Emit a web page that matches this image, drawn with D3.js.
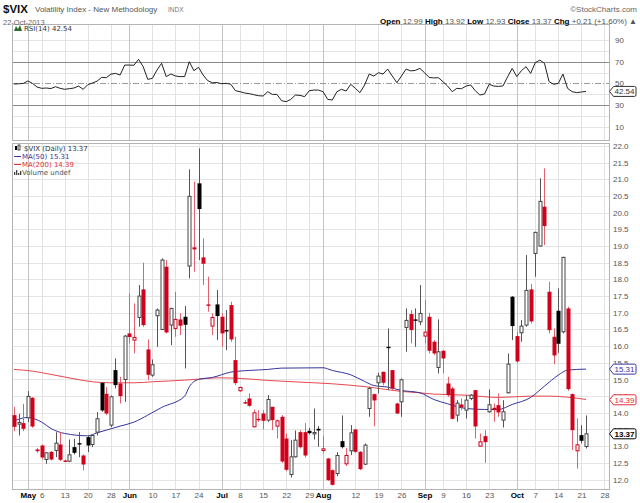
<!DOCTYPE html>
<html><head><meta charset="utf-8">
<script src="https://cdn.jsdelivr.net/npm/d3@7"></script>
<style>body{margin:0;background:#fff}svg{display:block}</style>
</head><body>
<svg id="c" width="640" height="503"></svg>
<script>
// ---------------- DATA ----------------
const dates = ["04-26","04-29","04-30",
"05-01","05-02","05-03","05-06","05-07","05-08","05-09","05-10","05-13","05-14","05-15","05-16","05-17","05-20","05-21","05-22","05-23","05-24","05-28","05-29","05-30","05-31",
"06-03","06-04","06-05","06-06","06-07","06-10","06-11","06-12","06-13","06-14","06-17","06-18","06-19","06-20","06-21","06-24","06-25","06-26","06-27","06-28",
"07-01","07-02","07-03","07-05","07-08","07-09","07-10","07-11","07-12","07-15","07-16","07-17","07-18","07-19","07-22","07-23","07-24","07-25","07-26","07-29","07-30","07-31",
"08-01","08-02","08-05","08-06","08-07","08-08","08-09","08-12","08-13","08-14","08-15","08-16","08-19","08-20","08-21","08-22","08-23","08-26","08-27","08-28","08-29","08-30",
"09-03","09-04","09-05","09-06","09-09","09-10","09-11","09-12","09-13","09-16","09-17","09-18","09-19","09-20","09-23","09-24","09-25","09-26","09-27","09-30",
"10-01","10-02","10-03","10-04","10-07","10-08","10-09","10-10","10-11","10-14","10-15","10-16","10-17","10-18","10-21","10-22"];
const futureDates = ["10-23","10-24","10-25","10-28","10-29"];

const open = [13.93,13.66,13.69,
13.85,14.45,12.90,13.02,12.60,12.83,12.87,13.05,12.57,12.55,12.97,13.09,12.72,13.27,13.05,13.42,14.90,14.57,13.63,15.28,14.88,15.00,
16.38,16.18,16.86,17.70,15.90,15.13,16.91,16.50,18.38,16.63,16.53,16.80,16.88,18.40,18.96,20.88,18.66,17.25,16.60,17.25,
16.88,16.48,17.23,15.58,14.66,14.32,14.43,13.58,13.82,13.98,13.78,14.18,13.60,13.88,13.23,12.15,12.68,13.42,13.42,13.46,13.37,13.52,
12.87,12.63,12.28,12.18,13.15,12.47,12.86,13.50,12.83,12.46,14.13,14.56,14.90,15.23,15.98,15.28,14.28,14.33,16.56,16.96,16.80,16.73,
16.30,16.88,16.13,15.36,15.86,14.88,14.73,13.93,14.25,14.08,14.43,14.68,13.00,13.30,14.03,14.15,14.23,13.78,14.60,17.48,
16.30,16.40,16.63,17.70,18.78,19.00,20.18,17.63,16.28,17.06,16.43,17.13,14.56,12.86,13.33,12.99];
const high = [14.18,13.97,14.27,
14.65,14.47,12.95,13.05,12.82,12.85,13.42,13.42,12.60,13.20,13.22,13.42,12.75,13.32,13.35,14.02,14.92,14.77,14.52,15.63,15.08,16.33,
17.58,17.28,17.83,18.50,16.20,15.60,17.13,18.63,18.58,17.15,17.63,16.98,17.20,21.30,20.93,21.93,19.23,18.08,16.98,17.68,
16.98,17.08,17.33,16.28,14.78,14.38,14.58,14.10,14.08,14.08,14.53,14.18,13.80,13.93,13.38,13.18,13.47,13.48,13.69,13.55,14.13,13.60,
13.30,12.65,12.30,12.82,13.92,12.95,13.63,13.52,12.85,13.08,14.78,14.58,15.20,15.23,16.53,15.28,14.30,15.03,17.13,17.08,17.13,17.83,
17.38,17.00,16.18,16.80,15.88,15.08,14.78,14.38,14.43,14.53,14.56,14.68,13.38,13.48,14.70,14.28,14.58,14.38,15.78,17.50,
16.43,16.78,18.73,17.86,19.43,21.03,21.33,17.93,16.53,17.73,18.68,17.18,14.58,13.83,13.63,13.92];
const low = [13.45,13.32,13.45,
13.72,13.55,12.80,12.60,12.47,12.57,12.67,12.55,12.52,12.52,12.75,12.67,12.27,12.82,12.97,13.32,14.03,13.93,13.57,14.73,14.28,14.33,
16.08,15.78,16.58,16.58,14.98,15.08,15.98,16.48,16.38,16.03,16.28,16.33,15.33,18.03,18.23,18.58,17.83,17.03,16.33,16.18,
15.98,15.88,16.13,14.83,14.63,14.26,14.18,13.56,13.73,13.50,13.73,13.48,13.23,12.50,12.25,12.06,12.66,12.93,12.66,13.35,13.20,12.98,
12.80,11.96,11.82,12.10,12.93,12.40,12.73,12.80,12.28,12.43,13.88,13.60,14.58,14.83,14.68,14.68,13.96,13.88,15.83,16.08,15.98,16.63,
16.08,15.78,15.73,15.18,15.18,14.48,13.80,13.73,14.08,13.83,14.38,13.23,12.98,12.50,14.00,13.73,13.88,13.56,14.58,16.18,
15.50,16.13,16.58,16.68,18.08,18.98,19.03,16.38,15.46,15.80,16.38,14.66,12.88,12.33,13.08,12.93];
const close = [13.58,13.71,13.52,
14.49,13.59,12.85,12.66,12.80,12.60,13.09,12.59,12.55,12.74,12.80,13.07,12.45,13.02,13.32,13.82,14.07,13.98,14.48,14.83,14.50,16.30,
16.27,16.26,17.50,16.63,15.14,15.44,17.08,18.58,16.41,17.13,16.80,16.61,16.64,20.49,18.90,20.11,18.47,17.21,16.86,16.90,
16.38,16.44,16.20,14.89,14.76,14.30,14.21,14.00,13.80,13.76,14.40,13.78,13.76,12.54,12.29,12.68,13.18,12.97,12.72,13.39,13.41,13.47,
12.92,11.98,11.84,12.72,12.97,12.72,13.40,12.83,12.31,13.03,14.73,14.37,15.10,14.90,15.96,14.73,13.98,14.99,16.77,16.48,16.78,16.98,
16.42,15.86,15.78,15.83,15.63,14.53,13.82,14.29,14.16,14.38,14.53,13.59,13.13,13.12,14.24,14.08,14.01,14.03,15.46,16.60,
15.54,16.60,17.67,16.74,19.41,20.34,19.60,16.48,15.72,16.07,18.66,14.71,13.48,13.04,13.16,13.37];

const ma50Dates  = ["04-26","05-01","05-06","05-08","05-13","05-20","05-22","05-28","05-30","06-04","06-07","06-12","06-19","06-20","06-24","06-27","07-03","07-10","07-16","07-19","08-01","08-05","08-09","08-14","08-16","08-21","08-26","08-30","09-05","09-10","09-16","09-20","09-25","09-30","10-04","10-09","10-14","10-16","10-22"];
const ma50Values = [13.76,13.86,13.72,13.53,13.38,13.31,13.40,13.52,13.60,13.72,13.93,14.16,14.50,14.78,15.00,15.06,15.22,15.27,15.30,15.34,15.35,15.27,15.14,14.94,14.82,14.77,14.67,14.60,14.40,14.27,14.13,14.10,14.10,14.25,14.46,14.80,15.13,15.28,15.31];
const ma200Dates  = ["04-26","05-02","05-08","05-15","05-21","05-28","06-04","06-10","06-19","06-24","06-28","07-05","07-16","07-25","08-05","08-15","08-26","08-30","09-05","09-16","09-25","10-04","10-10","10-22"];
const ma200Values = [15.30,15.25,15.15,15.02,14.93,14.90,14.90,14.93,14.98,15.01,15.05,15.04,14.97,14.92,14.87,14.77,14.64,14.60,14.56,14.53,14.46,14.50,14.50,14.40];

const rsi = [49.4,49.6,49.9,
52.2,50.0,46.6,45.4,45.7,45.2,46.9,45.4,44.5,45.1,45.7,47.5,44.5,48.8,50.3,52.0,55.5,55.2,58.5,59.2,57.7,66.9,
66.9,66.7,72.2,65.4,53.7,54.6,62.3,68.5,56.2,58.6,56.8,56.2,56.3,70.0,61.7,64.8,57.7,52.5,50.6,50.7,
49.7,50.0,49.2,43.2,42.3,41.1,40.5,39.5,38.6,38.3,42.3,39.8,39.8,34.0,33.1,35.2,39.2,38.9,37.7,43.2,43.8,43.8,
42.3,35.2,34.6,42.3,44.5,42.9,49.1,45.4,41.4,48.5,58.6,56.8,59.8,58.6,63.2,56.8,50.6,56.8,63.2,61.5,62.0,63.8,
59.8,55.5,55.0,55.2,51.5,47.5,42.3,45.4,45.0,47.5,48.5,43.2,39.2,40.2,49.1,47.5,47.2,47.6,56.0,63.8,
56.2,61.7,65.4,59.2,69.1,71.5,68.5,51.5,49.1,50.0,58.6,45.4,42.3,41.4,42.0,42.54];

const tickDates  = ["05-01","05-06","05-13","05-20","05-28","06-03","06-10","06-17","06-24","07-01","07-08","07-15","07-22","07-29","08-01","08-12","08-19","08-26","09-03","09-09","09-16","09-23","10-01","10-07","10-14","10-21","10-28"];
const tickLabels = ["May","6","13","20","28","Jun","10","17","24","Jul","8","15","22","29","Aug","12","19","26","Sep","9","16","23","Oct","7","14","21","28"];
const monthLabels = ["May","Jun","Jul","Aug","Sep","Oct"];
const priceTicks = [12.0,12.5,13.0,13.5,14.0,14.5,15.0,15.5,16.0,16.5,17.0,17.5,18.0,18.5,19.0,19.5,20.0,20.5,21.0,21.5,22.0];
const rsiTicks = [10,30,50,70,90];
const rsiGrid = [10,20,40,60,80,90];

const lastClose = 13.37, lastMa50 = 15.31, lastMa200 = 14.39, lastRsi = 42.54;

// ---------------- LAYOUT ----------------
const svg = d3.select("#c");
const F = "'Liberation Sans', Arial, sans-serif";
const FD = "'DejaVu Sans', Verdana, sans-serif";
const L = 12, R = 609;
const rsiTop = 24, rsiBot = 140, mainTop = 143, mainBot = 489;
const allDates = dates.concat(futureDates);
const idx = d => allDates.indexOf(d);

const x = d3.scaleLinear().domain([0, dates.length - 1]).range([14, 586]);
const y = d3.scaleLinear().domain([12, 22]).range([479.5, 146]);
const yr = d3.scaleLinear().domain([0, 100]).range([137.5, 29.2]);

const defs = svg.append("defs");
defs.append("clipPath").attr("id","cm").append("rect").attr("x",L).attr("y",mainTop).attr("width",R-L).attr("height",mainBot-mainTop);
defs.append("clipPath").attr("id","cr").append("rect").attr("x",L).attr("y",rsiTop).attr("width",R-L).attr("height",rsiBot-rsiTop);

const grid = svg.append("g").attr("shape-rendering","crispEdges");
grid.selectAll("line.hm").data(priceTicks).join("line")
  .attr("x1",L).attr("x2",R).attr("y1",d=>Math.round(y(d))+0.5).attr("y2",d=>Math.round(y(d))+0.5)
  .attr("stroke","#e4e4e4");
grid.selectAll("line.hr").data(rsiGrid).join("line")
  .attr("x1",L).attr("x2",R).attr("y1",d=>Math.round(yr(d))+0.5).attr("y2",d=>Math.round(yr(d))+0.5)
  .attr("stroke","#e4e4e4");
tickDates.forEach((d,i)=>{
  const xx = Math.round(x(idx(d)))+0.5;
  const isMonth = monthLabels.includes(tickLabels[i]);
  const col = isMonth ? "#c4c4c4" : "#e2e2e2";
  if (xx < R) {
    grid.append("line").attr("x1",xx).attr("x2",xx).attr("y1",rsiTop).attr("y2",rsiBot).attr("stroke",col);
    grid.append("line").attr("x1",xx).attr("x2",xx).attr("y1",mainTop).attr("y2",mainBot).attr("stroke",col);
  }
});
[70,30].forEach(v=>{
  grid.append("line").attr("x1",L).attr("x2",R).attr("y1",Math.round(yr(v))+0.5).attr("y2",Math.round(yr(v))+0.5)
    .attr("stroke","#8a8a8a").attr("stroke-width",v===30?1.5:1);
});
grid.append("line").attr("x1",L).attr("x2",R).attr("y1",Math.round(yr(50))+0.5).attr("y2",Math.round(yr(50))+0.5)
  .attr("stroke","#9a9a9a").attr("stroke-dasharray","6,2,1,2");

svg.append("rect").attr("x",L+0.5).attr("y",rsiTop+0.5).attr("width",R-L).attr("height",rsiBot-rsiTop)
  .attr("fill","none").attr("stroke","#b4b4b4").attr("shape-rendering","crispEdges");
svg.append("rect").attr("x",L+0.5).attr("y",mainTop+0.5).attr("width",R-L).attr("height",mainBot-mainTop)
  .attr("fill","none").attr("stroke","#b4b4b4").attr("shape-rendering","crispEdges");

// ---------------- CANDLES ----------------
const data = dates.map((d,i)=>({i, o:open[i], h:high[i], l:low[i], c:close[i], pc: i>0 ? close[i-1] : null}));
data.forEach(d=>{
  d.red = d.pc === null ? d.c < d.o : d.c < d.pc;
  d.hollow = d.c > d.o;
});
const RED = "#d0021b", REDW = "#e3616f";
const gm = svg.append("g").attr("clip-path","url(#cm)");

const ma50 = ma50Dates.map((d,i)=>({i:idx(d), v:ma50Values[i]}));
const ma200 = ma200Dates.map((d,i)=>({i:idx(d), v:ma200Values[i]}));
const maLine = d3.line().x(d=>x(d.i)).y(d=>y(d.v)).curve(d3.curveMonotoneX);
gm.append("path").attr("d",maLine(ma200)).attr("fill","none").attr("stroke","#e8484e").attr("stroke-width",1);
gm.append("path").attr("d",maLine(ma50)).attr("fill","none").attr("stroke","#35359c").attr("stroke-width",1);

const cx = d => Math.round(x(d.i)) + 0.5;
gm.selectAll("line.wick").data(data).join("line")
  .attr("x1",cx).attr("x2",cx)
  .attr("y1",d=>y(d.h)).attr("y2",d=>y(d.l))
  .attr("stroke",d=>d.red ? REDW : "#555").attr("stroke-width",1);
gm.selectAll("rect.body").data(data).join("rect")
  .attr("x",d=> d.hollow ? cx(d)-1.5 : cx(d)-2)
  .attr("width",d=> d.hollow ? 3 : 4)
  .attr("y",d=>y(Math.max(d.o,d.c)))
  .attr("height",d=>Math.max(1.4, Math.abs(y(d.o)-y(d.c))))
  .attr("fill",d=> d.hollow ? "#fff" : (d.red ? RED : "#000"))
  .attr("stroke",d=> d.hollow ? (d.red ? RED : "#444") : "none")
  .attr("stroke-width",1);

// ---------------- RSI ----------------
const gr = svg.append("g").attr("clip-path","url(#cr)");
gr.append("path").attr("d", d3.line().x((d,i)=>x(i)).y(d=>yr(d))(rsi))
  .attr("fill","none").attr("stroke","#222").attr("stroke-width",1);

// ---------------- AXES ----------------
const axM = svg.append("g").attr("transform",`translate(${R},0)`)
  .call(d3.axisRight(y).tickValues(priceTicks).tickFormat(d3.format(".1f")).tickSize(0).tickPadding(4));
const axR = svg.append("g").attr("transform",`translate(${R},0)`)
  .call(d3.axisRight(yr).tickValues(rsiTicks).tickFormat(d3.format("d")).tickSize(0).tickPadding(6));
[axM, axR].forEach(a=>{
  a.select(".domain").remove();
  a.selectAll("text").attr("font-family",F).attr("font-size","8px").attr("fill","#555");
});
const axX = svg.append("g").attr("transform",`translate(0,${mainBot})`)
  .call(d3.axisBottom(x).tickValues(tickDates.map(idx)).tickFormat((d,i)=>tickLabels[i]).tickSize(0).tickPadding(3));
axX.select(".domain").remove();
axX.selectAll("text").attr("font-family",F).attr("font-size","8px")
  .attr("fill",(d,i)=> monthLabels.includes(tickLabels[i]) ? "#000" : "#555")
  .attr("font-weight",(d,i)=> monthLabels.includes(tickLabels[i]) ? "bold" : "normal");

function tag(yy, txt, col, fill, bold){
  const g = svg.append("g");
  const x0 = R + 0.5, w = 25, h = 10;
  g.append("path").attr("d",`M${x0},${yy} L${x0+4},${yy-h/2} L${x0+w},${yy-h/2} Q${x0+w+1.5},${yy-h/2} ${x0+w+1.5},${yy-h/2+1.5} L${x0+w+1.5},${yy+h/2-1.5} Q${x0+w+1.5},${yy+h/2} ${x0+w},${yy+h/2} L${x0+4},${yy+h/2} Z`)
    .attr("fill",fill).attr("stroke",col).attr("stroke-width",1);
  g.append("text").attr("x",x0+15).attr("y",yy+3).attr("text-anchor","middle")
    .attr("font-family",F).attr("font-size","8px").attr("font-weight",bold?"bold":"normal").attr("fill",bold?"#000":col).text(txt);
}
tag(y(lastMa50), lastMa50.toFixed(2), "#3535a0", "#fff", false);
tag(y(lastMa200), lastMa200.toFixed(2), "#e0303a", "#fff", false);
tag(y(lastClose), lastClose.toFixed(2), "#000", "#fff", true);
tag(yr(lastRsi), lastRsi.toFixed(2), "#333", "#fff", false);

// ---------------- HEADER ----------------
svg.append("text").attr("x",3).attr("y",13).attr("font-family",F).attr("font-size","11.5px").attr("font-weight","bold").attr("fill","#111").text("$VIX");
svg.append("text").attr("x",35).attr("y",12).attr("font-family",F).attr("font-size","8px").attr("fill","#555").text("Volatility Index - New Methodology");
svg.append("text").attr("x",168).attr("y",12).attr("font-family",F).attr("font-size","6.5px").attr("fill","#777").text("INDX");
svg.append("text").attr("x",3).attr("y",25).attr("font-family",F).attr("font-size","7.5px").attr("fill","#666").text("22-Oct-2013");
svg.append("text").attr("x",637).attr("y",12).attr("text-anchor","end").attr("font-family",F).attr("font-size","8px").attr("fill","#666").text("©StockCharts.com");
const hd = svg.append("text").attr("x",637).attr("y",24).attr("text-anchor","end").attr("font-family",F).attr("font-size","8px");
[["Open ",1],["12.99 ",0],["High ",1],["13.92 ",0],["Low ",1],["12.93 ",0],["Close ",1],["13.37 ",0],["Chg ",1],["+0.21 (+1.60%) ▲",0]].forEach(([t,b])=>{
  hd.append("tspan").text(t).attr("font-weight",b?"bold":"normal").attr("fill",b?"#000":"#555");
});

// ---------------- LEGENDS ----------------
svg.append("path").attr("d","M14,31 L16,26 L18,29 L20,25 L22,31 Z").attr("fill","#2e6b2e");
svg.append("text").attr("x",24).attr("y",31).attr("font-family",FD).attr("font-size","7px").attr("fill","#333").text("RSI(14) " + lastRsi.toFixed(2));

const lg = svg.append("g");
lg.append("rect").attr("x",15).attr("y",146).attr("width",2).attr("height",4).attr("fill","#000");
lg.append("rect").attr("x",18).attr("y",145).attr("width",2).attr("height",5).attr("fill","none").attr("stroke","#000").attr("stroke-width",0.7);
lg.append("text").attr("x",24).attr("y",151).attr("font-family",FD).attr("font-size","7px").attr("fill","#333").text("$VIX (Daily) " + lastClose.toFixed(2));
lg.append("line").attr("x1",14).attr("x2",21).attr("y1",156.5).attr("y2",156.5).attr("stroke","#35359c");
lg.append("text").attr("x",22).attr("y",159).attr("font-family",FD).attr("font-size","7px").attr("fill","#35359c").text("MA(50) " + lastMa50.toFixed(2));
lg.append("line").attr("x1",14).attr("x2",21).attr("y1",164.5).attr("y2",164.5).attr("stroke","#e0303a");
lg.append("text").attr("x",22).attr("y",167).attr("font-family",FD).attr("font-size","7px").attr("fill","#e0303a").text("MA(200) " + lastMa200.toFixed(2));
[[14,3],[16,5],[18,2],[20,4]].forEach(([bx,bh])=>lg.append("rect").attr("x",bx).attr("y",175-bh).attr("width",1.3).attr("height",bh).attr("fill","#444"));
lg.append("text").attr("x",22).attr("y",175).attr("font-family",FD).attr("font-size","7px").attr("fill","#555").text("Volume undef");
</script>
</body></html>
